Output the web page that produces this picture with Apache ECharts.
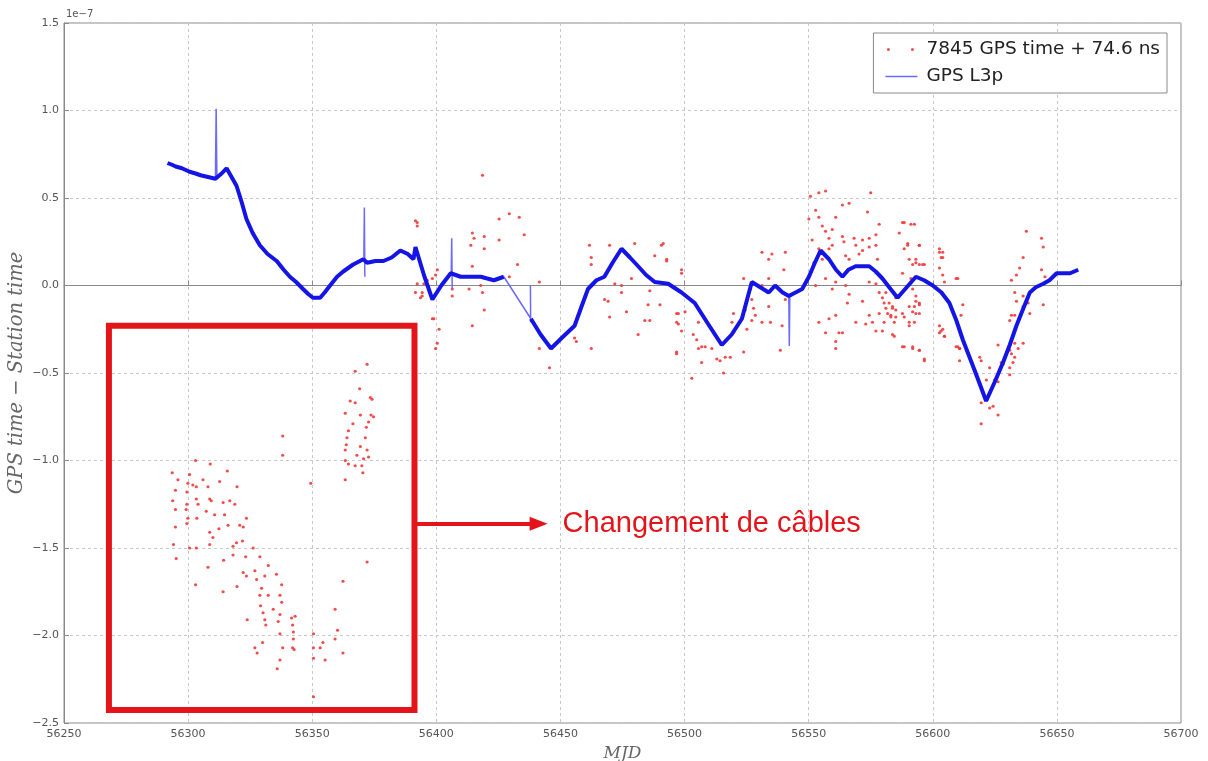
<!DOCTYPE html>
<html>
<head>
<meta charset="utf-8">
<script src="https://cdn.jsdelivr.net/npm/echarts@6/dist/echarts.min.js"></script>
<style>
  html, body { margin: 0; padding: 0; background: #ffffff; }
  #chart { width: 1208px; height: 761px; }
</style>
</head>
<body>
<div id="chart"></div>
<script>
// Offsets are expressed in units of 1e-7 s (GPS time - station time); x is MJD.

// Station 7845 GPS time + 74.6 ns, [MJD, offset]
const stationPoints = [
  // period of the cable change
  [56372.1,-0.45],[56367.3,-0.49],[56369.1,-0.59],[56365.3,-0.66],[56367.3,-0.67],[56373.4,-0.64],
  [56374.1,-0.65],[56363.3,-0.73],[56369.4,-0.74],[56373.7,-0.74],[56374.7,-0.75],[56372.7,-0.78],
  [56371.8,-0.81],[56366.4,-0.79],[56364.6,-0.83],[56371.4,-0.87],[56364.0,-0.87],[56363.7,-0.91],
  [56369.4,-0.92],[56363.3,-0.94],[56372.1,-0.94],[56368.0,-0.97],[56370.7,-0.99],[56372.7,-0.98],
  [56363.3,-1.00],[56364.6,-1.02],[56367.3,-1.03],[56370.0,-1.03],[56370.4,-1.07],[56363.3,-1.11],
  [56338.1,-0.86],[56338.1,-0.97],[56349.4,-1.13],[56372.1,-1.58],[56362.4,-1.69],[56359.2,-1.85],
  [56360.2,-1.97],[56359.2,-2.02],[56362.4,-2.10],[56350.5,-1.99],[56350.5,-2.07],[56350.5,-2.13],
  [56353.2,-2.07],[56354.3,-2.04],[56355.2,-2.14],[56350.5,-2.35],
  [56303.0,-1.00],[56308.9,-1.02],[56315.8,-1.06],[56293.6,-1.07],[56295.9,-1.11],[56300.6,-1.08],
  [56306.0,-1.11],[56312.7,-1.12],[56319.7,-1.15],[56299.9,-1.13],[56301.9,-1.14],[56303.3,-1.15],
  [56308.0,-1.15],[56294.9,-1.17],[56299.5,-1.18],[56303.3,-1.22],[56308.7,-1.22],[56309.3,-1.23],
  [56314.1,-1.24],[56316.8,-1.23],[56318.8,-1.25],[56293.8,-1.23],[56299.5,-1.25],[56304.0,-1.25],
  [56294.9,-1.28],[56299.2,-1.28],[56307.3,-1.29],[56310.7,-1.31],[56314.7,-1.31],[56299.9,-1.33],
  [56303.5,-1.33],[56323.5,-1.33],[56294.9,-1.38],[56299.5,-1.36],[56308.7,-1.41],[56312.4,-1.39],
  [56316.1,-1.37],[56320.8,-1.37],[56322.2,-1.38],[56310.0,-1.44],[56308.7,-1.48],[56318.1,-1.49],
  [56319.5,-1.47],[56321.9,-1.46],[56294.1,-1.48],[56300.6,-1.50],[56303.3,-1.50],[56314.3,-1.57],
  [56318.1,-1.54],[56326.2,-1.50],[56295.2,-1.56],[56308.0,-1.61],[56328.9,-1.55],[56323.2,-1.55],
  [56332.3,-1.60],[56303.0,-1.71],[56314.1,-1.75],[56319.7,-1.72],[56322.2,-1.64],[56326.9,-1.63],
  [56323.5,-1.66],[56330.9,-1.66],[56335.6,-1.65],[56323.8,-1.91],[56327.6,-1.68],[56329.6,-1.73],
  [56332.3,-1.77],[56328.9,-1.77],[56337.7,-1.71],[56337.0,-1.77],[56337.7,-1.81],[56329.2,-1.83],
  [56334.3,-1.85],[56330.2,-1.87],[56337.0,-1.88],[56341.7,-1.90],[56343.1,-1.89],[56330.9,-1.91],
  [56336.3,-1.92],[56342.1,-1.94],[56342.4,-1.98],[56342.4,-2.02],[56337.0,-1.99],[56331.3,-1.94],
  [56330.0,-2.04],[56326.9,-2.07],[56327.8,-2.10],[56338.1,-2.07],[56342.1,-2.07],[56342.7,-2.08],
  [56337.0,-2.14],[56335.9,-2.19],
  // after the cable change
  [56392.3,0.36],[56400.4,0.09],[56398.4,0.04],[56396.3,0.03],[56395.0,0.01],[56394.3,-0.04],
  [56393.6,-0.07],[56398.4,-0.19],
  [56418.6,0.63],[56391.6,0.37],[56392.3,0.34],[56425.3,0.38],[56429.4,0.41],[56433.4,0.39],
  [56425.3,0.26],[56435.4,0.29],[56414.5,0.30],[56415.2,0.27],[56419.3,0.28],[56413.9,0.23],
  [56419.3,0.21],[56414.5,0.11],[56432.7,0.12],[56399.7,0.06],[56392.3,0.01],
  [56391.6,-0.04],[56394.3,-0.06],[56406.4,-0.02],[56406.4,-0.06],[56417.9,0.00],[56418.6,-0.04],
  [56413.2,-0.02],[56429.4,0.05],[56441.5,0.02],[56419.3,-0.14],[56399.0,-0.19],[56401.1,-0.25],
  [56400.4,-0.33],[56399.7,-0.36],[56414.5,-0.23],[56441.5,-0.36],[56445.6,-0.47],[56455.7,-0.30],
  [56456.4,-0.32],[56462.4,-0.36],[56461.7,0.23],[56462.4,0.16],[56462.4,0.12],[56469.8,0.23],
  [56479.9,0.24],[56490.7,0.23],[56488.0,0.17],[56492.8,0.15],[56478.6,0.04],[56471.9,0.01],
  [56474.6,0.00],[56474.6,-0.04],[56486.0,-0.03],[56467.8,-0.08],[56469.2,-0.09],[56476.6,-0.15],
  [56485.3,-0.11],[56490.1,-0.11],[56469.8,-0.18],[56484.0,-0.20],[56486.0,-0.20],[56496.8,-0.16],
  [56497.5,-0.22],[56481.3,-0.28],[56496.8,-0.39],[56498.8,0.07],
  [56491.4,0.24],[56492.8,0.14],[56498.8,0.09],[56500.2,-0.15],[56497.5,-0.16],[56496.8,-0.21],
  [56498.8,-0.26],[56505.6,-0.21],[56503.5,-0.28],[56504.9,-0.31],[56506.9,-0.35],[56505.6,-0.36],
  [56496.8,-0.38],[56511.0,-0.36],[56513.0,-0.42],[56514.3,-0.43],[56516.4,-0.41],[56518.4,-0.41],
  [56506.9,-0.44],[56508.3,-0.35],[56502.9,-0.53],[56515.7,-0.50],[56519.1,-0.21],[56519.7,-0.16],
  [56523.8,-0.38],[56523.8,0.04],[56526.5,-0.02],[56527.1,-0.08],[56527.8,-0.13],[56528.5,-0.17],
  [56524.4,-0.14],[56527.1,-0.20],[56525.1,-0.25],[56531.2,0.19],[56533.9,0.15],[56535.2,0.18],
  [56533.9,0.04],[56531.2,0.00],[56533.9,-0.12],[56534.6,-0.21],[56531.2,-0.21],[56540.6,0.19],
  [56540.0,0.09],[56540.6,-0.08],[56539.3,-0.23],[56538.6,-0.37],
  [56550.7,0.51],[56554.1,0.53],[56556.8,0.54],[56575.0,0.53],[56552.8,0.43],[56563.6,0.46],
  [56566.3,0.47],[56554.1,0.39],[56550.1,0.38],[56560.9,0.39],[56573.7,0.42],[56555.5,0.34],
  [56556.8,0.31],[56559.5,0.32],[56551.4,0.26],[56558.2,0.27],[56563.6,0.28],[56568.3,0.27],
  [56571.7,0.26],[56574.4,0.27],[56577.1,0.29],[56578.4,0.35],[56587.8,0.36],[56591.2,0.35],
  [56554.1,0.21],[56558.2,0.21],[56559.5,0.23],[56564.2,0.25],[56569.0,0.23],[56571.7,0.20],
  [56574.4,0.22],[56577.1,0.23],[56570.3,0.18],[56552.1,0.13],[56555.5,0.15],[56564.9,0.17],
  [56566.3,0.15],[56577.7,0.15],[56588.5,0.21],[56589.9,0.24],[56594.6,0.23],[56590.5,0.15],
  [56593.2,0.13],[56595.9,0.12],[56552.8,0.00],[56556.8,0.04],[56560.9,0.02],[56559.5,-0.02],
  [56564.9,0.00],[56566.3,-0.05],[56565.6,-0.10],[56571.7,-0.09],[56574.4,0.02],[56577.1,0.01],
  [56578.4,-0.04],[56579.7,-0.07],[56580.4,-0.10],[56581.1,-0.13],[56583.8,-0.13],[56585.1,-0.07],
  [56583.1,-0.17],[56585.1,-0.18],[56578.4,-0.16],[56574.4,-0.17],[56573.0,-0.22],[56575.7,-0.21],
  [56569.0,-0.21],[56560.9,-0.17],[56558.2,-0.19],[56554.1,-0.21],[56556.8,-0.27],[56562.2,-0.27],
  [56563.6,-0.27],[56560.9,-0.32],[56560.9,-0.36],[56577.1,-0.26],[56579.7,-0.26],[56584.5,-0.29],
  [56587.8,-0.35],[56591.9,-0.35],[56594.6,-0.37],[56588.5,-0.18],[56590.5,-0.21],[56593.2,-0.16],
  [56594.6,-0.11],[56593.2,-0.09],[56587.8,-0.16],[56591.9,-0.02],[56590.5,-0.12],[56596.6,-0.42],
  [56602.7,0.19],[56604.0,0.16],[56609.4,0.04],[56604.7,0.02],[56602.7,-0.23],[56603.3,-0.26],
  [56604.7,-0.29],[56609.4,-0.35],[56610.8,-0.36],
  [56588.5,0.36],[56592.6,0.35],[56586.5,0.30],[56589.9,0.23],[56594.6,0.23],[56593.2,0.15],
  [56591.9,0.12],[56594.6,0.12],[56596.6,0.12],[56602.7,0.21],[56604.0,0.19],[56603.4,0.16],
  [56602.7,0.10],[56604.0,0.06],[56610.1,0.04],[56591.2,0.04],[56587.8,0.07],
  [56581.1,-0.04],[56582.4,-0.10],[56583.8,-0.12],[56585.1,-0.14],[56581.8,-0.16],[56583.1,-0.18],
  [56580.4,-0.21],[56584.5,-0.21],[56583.8,-0.28],[56593.2,-0.06],[56594.6,-0.10],[56592.6,-0.12],
  [56591.9,-0.15],[56594.6,-0.16],[56590.5,-0.23],[56592.6,-0.21],[56588.5,-0.35],[56591.9,-0.36],
  [56594.6,-0.37],[56596.6,-0.43],[56604.0,-0.25],[56604.7,-0.29],[56602.7,-0.27],[56612.1,-0.11],
  [56611.4,-0.17],[56610.1,-0.35],[56610.8,-0.36],[56610.8,-0.43],[56618.9,-0.41],[56619.5,-0.43],
  [56622.9,-0.47],[56621.6,-0.54],[56626.3,-0.34],[56627.6,-0.44],[56627.0,-0.48],[56628.3,-0.45],
  [56626.3,-0.55],[56624.9,-0.54],[56631.0,-0.37],[56631.7,-0.39],[56633.0,-0.41],[56632.3,-0.44],
  [56631.0,-0.47],[56631.0,-0.51],[56633.0,-0.33],[56634.4,-0.36],[56636.4,-0.33],[56631.0,-0.20],
  [56631.7,-0.17],[56633.0,-0.17],[56633.7,-0.09],[56636.4,-0.12],[56638.4,-0.10],[56639.1,-0.16],
  [56636.4,-0.06],[56633.0,-0.04],[56631.7,0.03],[56633.7,0.06],[56635.0,0.10],[56636.4,0.16],
  [56637.7,0.31],[56643.8,0.27],[56644.5,0.22],[56643.8,0.09],[56645.2,0.05],[56644.5,-0.11],
  [56619.5,-0.79],[56619.5,-0.67],[56622.9,-0.70],[56624.3,-0.69],[56626.3,-0.74]
];

// GPS L3p solution, [MJD, offset]; null marks a gap in the trace
const l3pTrace = [
  [56291.7,0.70],[56293.5,0.69],[56295.0,0.68],[56297.5,0.67],[56300.6,0.65],[56303.0,0.64],
  [56305.0,0.63],[56308.0,0.62],[56311.0,0.61],[56313.5,0.64],[56315.5,0.67],[56317.5,0.62],
  [56319.5,0.57],[56321.5,0.48],[56323.5,0.38],[56326.0,0.30],[56328.9,0.23],[56332.0,0.18],
  [56335.7,0.14],[56338.5,0.09],[56341.0,0.05],[56343.5,0.02],[56346.3,-0.02],[56348.5,-0.05],
  [56350.3,-0.07],[56353.2,-0.07],[56355.0,-0.04],[56357.2,0.00],[56360.0,0.05],[56362.5,0.08],
  [56366.5,0.12],[56370.6,0.15],[56372.1,0.13],[56375.5,0.14],[56378.7,0.14],[56382.0,0.16],
  [56385.5,0.20],[56388.5,0.18],[56390.8,0.15],[56391.6,0.22],[56395.0,0.06],[56398.4,-0.08],
  [56402.0,0.00],[56405.8,0.07],[56409.8,0.05],[56414.0,0.05],[56417.9,0.05],[56420.5,0.04],
  [56423.2,0.03],[56427.2,0.05],[56432.0,null],
  [56438.1,-0.19],[56442.0,-0.28],[56446.2,-0.36],[56450.5,-0.30],[56455.7,-0.23],[56458.5,-0.12],
  [56461.1,-0.02],[56464.5,0.03],[56467.7,0.05],[56471.0,0.13],[56474.6,0.21],[56478.0,0.16],
  [56481.3,0.11],[56484.5,0.06],[56488.0,0.02],[56493.4,0.01],[56498.8,-0.04],[56504.1,-0.10],
  [56509.5,-0.22],[56515.0,-0.34],[56519.0,-0.28],[56523.1,-0.19],[56527.1,0.02],[56530.5,-0.01],
  [56533.9,-0.04],[56536.5,0.00],[56539.5,-0.04],[56542.0,-0.06],[56547.4,-0.02],[56550.1,0.05],
  [56552.5,0.13],[56554.8,0.20],[56558.2,0.15],[56561.0,0.09],[56563.6,0.05],[56566.0,0.09],
  [56568.9,0.11],[56574.4,0.11],[56577.0,0.08],[56579.7,0.04],[56583.0,-0.02],[56585.8,-0.07],
  [56589.5,-0.01],[56593.2,0.05],[56596.5,0.03],[56600.0,0.00],[56603.5,-0.04],[56606.7,-0.10],
  [56609.5,-0.20],[56612.1,-0.31],[56617.0,-0.49],[56621.5,-0.66],[56625.0,-0.55],[56628.3,-0.44],
  [56631.0,-0.34],[56633.7,-0.23],[56636.5,-0.13],[56639.1,-0.04],[56641.5,-0.01],[56644.5,0.01],
  [56647.0,0.03],[56649.9,0.07],[56652.5,0.07],[56655.3,0.07],[56658.6,0.09]
];

// Isolated L3p samples (short glitches and a sparse stretch)
const l3pGlitches = [
  [56311.0,0.61],[56311.3,1.01],[56311.6,0.62],[56311.8,null],
  [56370.8,0.16],[56371.0,0.445],[56371.2,0.05],[56371.4,null],
  [56406.0,0.07],[56406.2,0.27],[56406.4,-0.02],[56406.6,null],
  [56427.2,0.05],[56434.0,-0.10],[56438.1,-0.19],[56438.3,null],
  [56437.9,0.00],[56438.0,-0.21],[56438.2,null],
  [56542.0,-0.06],[56542.2,-0.345],[56542.4,-0.06]
];

// Axis ticks
const xTicks = { min: 56250, max: 56700, step: 50 };
const yTicks = { min: -2.5, max: 1.5, step: 0.5 };

// Outline around the cable change period and its arrow
const cableBox = [[56268.1, -0.23], [56391.2, -2.425]];
const cableArrow = [[56391.2, -1.362], [56441.2, -1.362]];
const cableNote = 'Changement de câbles';

const names = { station: '7845 GPS time + 74.6 ns', l3p: 'GPS L3p' };

const chart = echarts.init(document.getElementById('chart'), null, { renderer: 'canvas' });

const tickFont = { color: '#555', fontSize: 11, fontFamily: 'DejaVu Sans' };
const gridLine = { show: true, lineStyle: { color: '#c8c8c8', type: [3, 3], width: 1 } };
const annotRed = '#e3151b';

// legend glyphs drawn inside a 38 x 10 box
const twoDots = 'path://M0,0L0.01,0.01M38,10L37.99,9.99' +
  'M3.5,5a1.5,1.5 0 1,0 3,0a1.5,1.5 0 1,0 -3,0' +
  'M27.5,5a1.5,1.5 0 1,0 3,0a1.5,1.5 0 1,0 -3,0';
const thinBar = 'path://M0,0L0.01,0.01M38,10L37.99,9.99M2,4.3L34,4.3L34,5.7L2,5.7Z';

chart.setOption({
  animation: false,
  backgroundColor: '#ffffff',
  grid: {
    left: 64, right: 27, top: 23, bottom: 38,
    outerBoundsMode: 'none',
    show: true, borderColor: '#8a8a8a', borderWidth: 1, backgroundColor: 'transparent'
  },
  legend: {
    orient: 'vertical',
    right: 41, top: 33,
    backgroundColor: '#ffffff',
    borderColor: '#8a8a8a', borderWidth: 1,
    padding: [7, 7, 7, 10],
    itemGap: 8,
    itemWidth: 38, itemHeight: 10,
    itemTextGap: 15,
    textStyle: { fontSize: 18.5, color: '#222', fontFamily: 'DejaVu Sans' },
    data: [
      { name: names.station, icon: twoDots, itemStyle: { color: '#f03a3a' } },
      { name: names.l3p, icon: thinBar, itemStyle: { color: '#6a6aff' } }
    ]
  },
  xAxis: {
    type: 'value',
    min: xTicks.min, max: xTicks.max, interval: xTicks.step,
    name: 'MJD', nameLocation: 'middle', nameGap: 22, nameMoveOverlap: false,
    nameTextStyle: { fontFamily: 'DejaVu Serif', fontStyle: 'italic', fontSize: 17, color: '#666' },
    axisLine: { show: true, lineStyle: { color: '#8a8a8a' } },
    axisTick: { show: true, inside: true, length: 5, lineStyle: { color: '#8a8a8a' } },
    axisLabel: Object.assign({ margin: 6, formatter: v => String(v) }, tickFont),
    splitLine: gridLine
  },
  yAxis: {
    type: 'value',
    min: yTicks.min, max: yTicks.max, interval: yTicks.step,
    name: 'GPS time \u2212 Station time', nameLocation: 'middle', nameGap: 37, nameMoveOverlap: false,
    nameTextStyle: { fontFamily: 'DejaVu Serif', fontStyle: 'italic', fontSize: 19.5, color: '#666' },
    axisLine: { show: true, lineStyle: { color: '#8a8a8a' } },
    axisTick: { show: true, inside: true, length: 5, lineStyle: { color: '#8a8a8a' } },
    axisLabel: Object.assign({ margin: 5, formatter: v => v.toFixed(1).replace('-', '\u2212') }, tickFont),
    splitLine: gridLine
  },
  graphic: [
    { type: 'text', left: 66, top: 9,
      style: { text: '1e\u22127', fontSize: 10, fill: '#555', fontFamily: 'DejaVu Sans' } }
  ],
  series: [
    {
      name: names.station,
      type: 'scatter',
      data: stationPoints,
      symbol: 'circle',
      symbolSize: 3.2,
      itemStyle: { color: '#f03a3a', opacity: 0.9 },
      z: 2,
      markArea: {
        silent: true,
        itemStyle: { color: 'rgba(0,0,0,0)', borderColor: annotRed, borderWidth: 6 },
        data: [[{ coord: cableBox[0] }, { coord: cableBox[1] }]]
      },
      markLine: {
        silent: true,
        symbol: ['none', 'triangle'],
        symbolSize: [14, 18],
        lineStyle: { color: annotRed, width: 4, type: 'solid' },
        label: {
          show: true, position: 'end', distance: 24,
          formatter: cableNote,
          color: annotRed, fontSize: 29, fontFamily: 'Liberation Sans'
        },
        data: [[{ coord: cableArrow[0] }, { coord: cableArrow[1] }]]
      }
    },
    {
      name: names.l3p,
      type: 'line',
      data: l3pTrace,
      showSymbol: false,
      symbol: 'none',
      connectNulls: false,
      lineStyle: { color: '#1414e6', width: 4 },
      itemStyle: { color: '#1414e6' },
      z: 4
    },
    {
      name: 'glitches',
      type: 'line',
      data: l3pGlitches,
      showSymbol: false,
      symbol: 'none',
      connectNulls: false,
      lineStyle: { color: '#6a6aff', width: 1.5 },
      z: 3
    }
  ]
});
</script>
</body>
</html>
